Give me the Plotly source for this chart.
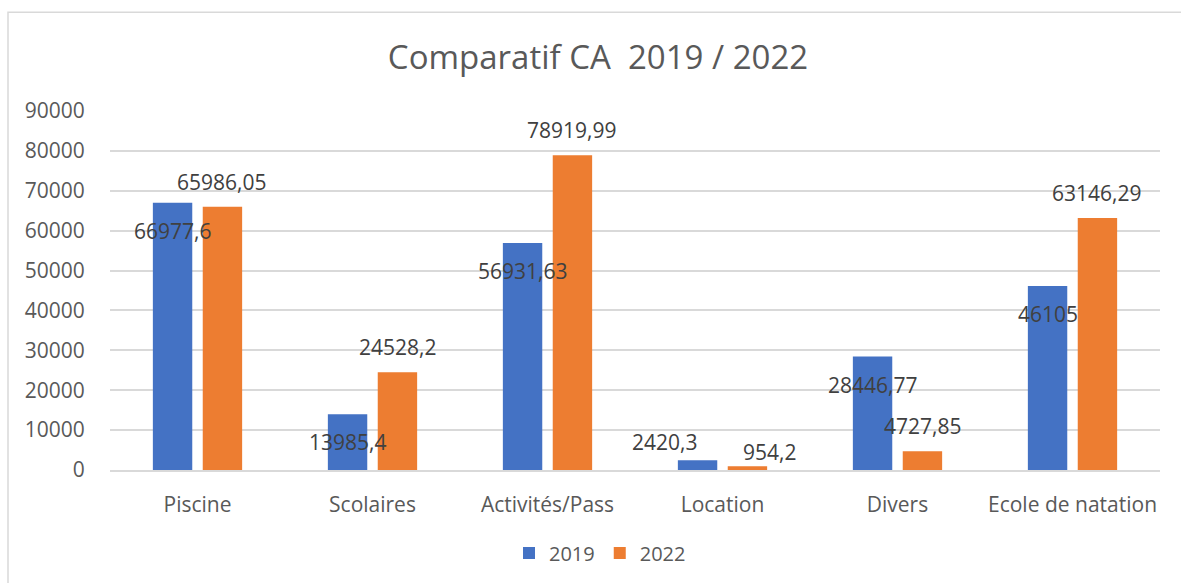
import plotly.graph_objects as go

# Chiffre d'affaires par activité
categories = ["Piscine", "Scolaires", "Activités/Pass", "Location", "Divers", "Ecole de natation"]
ca_2019 = [66977.6, 13985.4, 56931.63, 2420.3, 28446.77, 46105]
ca_2022 = [65986.05, 24528.2, 78919.99, 954.2, 4727.85, 63146.29]
label_2019 = ["66977,6", "13985,4", "56931,63", "2420,3", "28446,77", "46105"]
label_2022 = ["65986,05", "24528,2", "78919,99", "954,2", "4727,85", "63146,29"]
y_ticks = [0, 10000, 20000, 30000, 40000, 50000, 60000, 70000, 80000, 90000]

BLUE = "#4472C4"
ORANGE = "#ED7D31"
GRID = "#D9D9D9"
FONT = "Open Sans"

W, H = 1181, 583
ML, MR, MT, MB = 110, 21, 111, 112
BARGAP, GROUPGAP = 0.43, 0.21
plot_w = W - ML - MR
cat_px = plot_w / len(categories)
slot_px = cat_px * (1 - BARGAP) / 2  # horizontal offset of each bar from the category centre

# default label placement (pixels relative to bar top), with per-category tweaks
shift_2019 = {"Location": (-33, 18)}
shift_2022 = {"Location": (22, 14)}

fig = go.Figure()
fig.add_trace(go.Bar(name="2019", x=categories, y=ca_2019, marker_color=BLUE,
                     marker_line_width=0))
fig.add_trace(go.Bar(name="2022", x=categories, y=ca_2022, marker_color=ORANGE,
                     marker_line_width=0))

LABEL_FONT = dict(family=FONT, size=21, color="#404040")
annotations = []
for cat, v, txt in zip(categories, ca_2019, label_2019):
    dx, dy = shift_2019.get(cat, (0, -28))
    annotations.append(dict(x=cat, y=v, xref="x", yref="y", text=txt, showarrow=False,
                            xshift=-slot_px / 2 + dx, yshift=dy, yanchor="middle",
                            font=LABEL_FONT))
for cat, v, txt in zip(categories, ca_2022, label_2022):
    dx, dy = shift_2022.get(cat, (0, 25))
    annotations.append(dict(x=cat, y=v, xref="x", yref="y", text=txt, showarrow=False,
                            xshift=slot_px / 2 + dx, yshift=dy, yanchor="middle",
                            font=LABEL_FONT))

# outer chart frame
fx = (8 - ML) / plot_w
fy = (H - MB - 12) / (H - MT - MB)
shapes = [dict(type="path", xref="paper", yref="paper",
               path=f"M {fx} -0.5 L {fx} {fy} L 1.2 {fy}",
               line=dict(color=GRID, width=1.5))]

AXIS_FONT = dict(family=FONT, size=21, color="#595959")
fig.update_layout(
    width=W, height=H,
    margin=dict(l=ML, r=MR, t=MT, b=MB),
    paper_bgcolor="white", plot_bgcolor="white",
    barmode="group", bargap=BARGAP, bargroupgap=GROUPGAP,
    font=dict(family=FONT, color="#595959"),
    title=dict(text="Comparatif CA  2019 / 2022", x=598 / W, xref="container",
               xanchor="center", y=1 - 57 / H, yref="container", yanchor="middle",
               font=dict(family=FONT, size=33, color="#595959")),
    xaxis=dict(showgrid=False, showline=True, linecolor=GRID, linewidth=2,
               ticks="outside", ticklen=15, tickcolor="rgba(0,0,0,0)",
               tickfont=AXIS_FONT),
    yaxis=dict(range=[0, 90000], tickvals=y_ticks, tickformat="d",
               showgrid=True, gridcolor=GRID,
               gridwidth=1.5, zeroline=False, showline=False,
               ticks="outside", ticklen=20, tickcolor="rgba(0,0,0,0)",
               tickfont=AXIS_FONT),
    legend=dict(orientation="h", x=(600 - ML) / plot_w, xanchor="center",
                y=(H - MB - 553) / (H - MT - MB), yanchor="middle",
                font=dict(family=FONT, size=20, color="#595959"),
                itemwidth=30),
    annotations=annotations,
    shapes=shapes,
)

fig.write_html("out.html")
